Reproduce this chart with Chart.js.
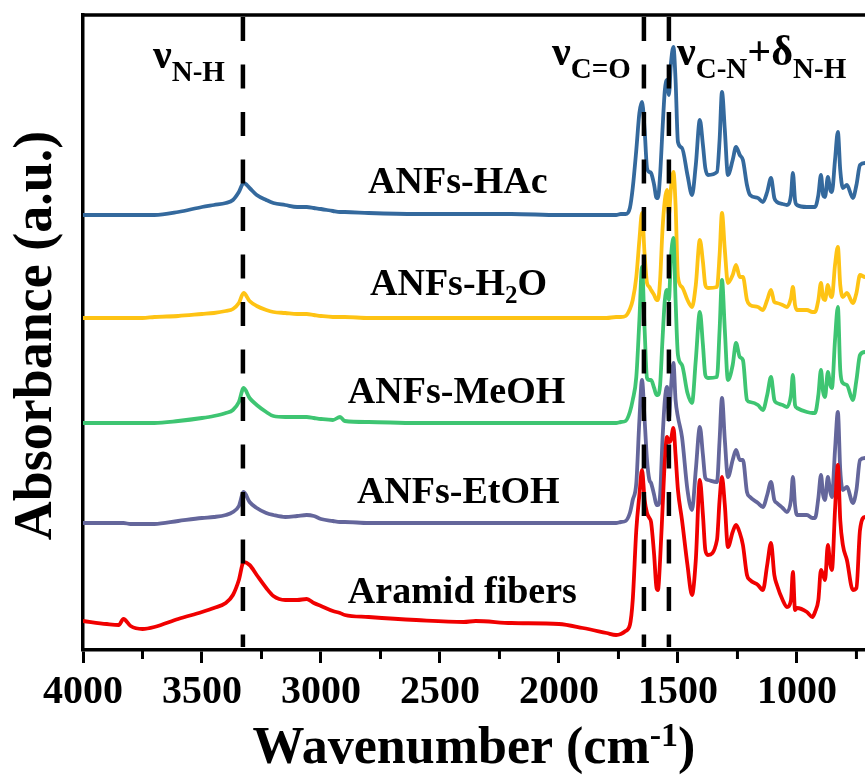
<!DOCTYPE html>
<html>
<head>
<meta charset="utf-8">
<script src="https://cdn.jsdelivr.net/npm/chart.js@4.4.1/dist/chart.umd.min.js"></script>
<style>
body { margin: 0; background: #fff; }
#wrap { width: 865px; height: 776px; }
</style>
</head>
<body>
<div id="wrap"><canvas id="ftir"></canvas></div>
<script>
// wavenumber grid (cm-1), shared by every spectrum
var wavenumbers = [
    4000,3900,3850,3830,3800,3750,3700,3600,3500,3450,
    3400,3370,3345,3325,3300,3270,3230,3200,3150,3100,
    3060,3030,3000,2950,2920,2900,2800,2600,2400,2350,
    2200,2000,1900,1800,1760,1740,1720,1702,1690,1675,
    1662,1651,1640,1630,1620,1613,1600,1590,1584,1575,
    1565,1555,1546,1538,1530,1519,1510,1500,1483,1460,
    1441,1425,1408,1395,1385,1374,1336,1325,1315,1303,
    1290,1270,1256,1240,1227,1210,1197,1164,1143,1125,
    1109,1095,1084,1060,1042,1025,1017,1008,1000,958,
    935,924,910,899,890,882,870,860,853,840,
    828,818,807,790,765,750,735,714,700
];

// absorbance (a.u., stacked with offsets)
var hacValues = [
    435,435,435,435,435,435,435,438,443,445,
    447,450,458,467,462,455,450,447,445,443,
    443,442,441,439,438,438,437,436,436,436,
    436,435,435,435,435,436,436,442,462,500,
    537,548,520,482,478,477,465,452,452,475,
    520,560,570,555,585,603,570,508,502,475,
    455,485,530,505,482,475,478,510,558,520,
    475,490,503,495,490,465,455,452,448,458,
    472,452,448,446,445,455,477,450,445,443,
    443,443,455,475,455,453,473,460,458,490,
    518,480,462,465,452,465,485,487,487
];
var h2oValues = [
    332,332,332,332,332,332,333,334,336,337,
    339,341,347,357,349,344,340,338,337,336,
    336,335,334,333,333,333,332,332,332,332,
    332,332,332,332,333,333,334,341,350,373,
    410,437,395,367,363,360,355,350,350,370,
    420,450,460,435,460,478,445,373,363,350,
    343,365,410,388,365,362,363,395,437,400,
    367,375,385,373,373,350,345,343,340,350,
    360,348,347,345,343,352,363,345,340,340,
    338,338,350,367,352,350,365,355,353,385,
    403,365,353,357,347,357,375,373,373
];
var meohValues = [
    227,227,227,227,227,227,227,229,232,234,
    237,240,248,262,252,245,238,234,233,233,
    233,232,231,230,233,229,228,227,227,227,
    227,227,227,227,227,228,229,238,250,273,
    330,383,320,272,270,270,262,255,255,265,
    310,350,360,350,390,412,350,295,285,257,
    247,290,338,305,275,272,273,320,370,320,
    270,285,307,293,290,250,248,245,240,255,
    273,250,247,245,243,255,275,245,242,238,
    237,237,255,280,258,253,278,265,262,310,
    343,280,267,265,250,270,295,298,298
];
var etohValues = [
    127,127,127,127,126,126,126,129,132,133,
    135,138,144,158,148,142,137,135,133,134,
    135,134,131,129,128,128,127,127,127,127,
    127,127,127,127,127,128,129,137,150,167,
    230,270,230,190,170,167,155,145,145,155,
    210,250,263,230,260,287,250,233,213,160,
    140,180,223,195,172,170,168,210,252,210,
    173,190,200,190,190,158,153,147,143,155,
    168,150,147,142,138,150,173,145,135,135,
    132,132,152,175,155,150,173,158,153,200,
    238,180,160,163,147,160,190,192,192
];
var aramidValues = [
    29,26,25,31,24,21,23,31,38,42,
    47,55,70,88,85,75,62,54,50,50,
    51,47,44,39,37,35,33,30,28,29,
    27,26,22,17,15,16,19,25,50,120,
    155,180,150,137,132,128,95,62,60,90,
    140,190,213,208,210,222,195,160,130,85,
    55,90,170,135,100,95,110,150,173,145,
    103,118,125,117,105,75,70,65,60,85,
    107,75,65,50,43,50,78,40,42,38,
    33,38,50,80,75,70,105,85,80,140,
    185,130,105,90,60,62,120,133,133
];

var tickValues = [4000, 3500, 3000, 2500, 2000, 1500, 1000];
var minorTickValues = [3750, 3250, 2750, 2250, 1750, 1250, 750];
var bandPositions = [3328, 1643, 1538];

// text runs: [text, 0 normal | 1 subscript | 2 superscript]
var seriesLabels = [
    { runs: [['ANFs-HAc', 0]], at: [2802, 457] },
    { runs: [['ANFs-H', 0], ['2', 1], ['O', 0]], at: [2794, 355] },
    { runs: [['ANFs-MeOH', 0]], at: [2887, 247] },
    { runs: [['ANFs-EtOH', 0]], at: [2849, 147] },
    { runs: [['Aramid fibers', 0]], at: [2887, 47] }
];
var bandLabels = [
    { runs: [['\u03BD', 0], ['N-H', 1]], at: [3706, 582] },
    { runs: [['\u03BD', 0], ['C=O', 1]], at: [2029, 585] },
    { runs: [['\u03BD', 0], ['C-N', 1], ['+', 0], ['\u03B4', 0], ['N-H', 1]], at: [1504, 585] }
];

var FONT = '"Liberation Serif", "Times New Roman", serif';

function runsWidth(ctx, runs, size, small) {
    var w = 0;
    runs.forEach(function(r) {
        ctx.font = 'bold ' + (r[1] ? small : size) + 'px ' + FONT;
        w += ctx.measureText(r[0]).width;
    });
    return w;
}
function drawRuns(ctx, runs, x, y, size, small, shift) {
    runs.forEach(function(r) {
        ctx.font = 'bold ' + (r[1] ? small : size) + 'px ' + FONT;
        var dy = r[1] === 1 ? shift : (r[1] === 2 ? -shift : 0);
        ctx.fillText(r[0], x, y + dy);
        x += ctx.measureText(r[0]).width;
    });
}

var decor = {
    id: 'decor',
    afterDatasetsDraw: function(chart) {
        var ctx = chart.ctx, xs = chart.scales.x, ys = chart.scales.y;
        ctx.save();
        ctx.strokeStyle = '#000';
        ctx.lineWidth = 4.5;
        ctx.setLineDash([24, 23.5]);
        bandPositions.forEach(function(w) {
            var px = xs.getPixelForValue(w);
            ctx.beginPath();
            ctx.moveTo(px, ys.getPixelForValue(633));
            ctx.lineTo(px, ys.getPixelForValue(3));
            ctx.stroke();
        });
        ctx.restore();
    },
    afterDraw: function(chart) {
        var ctx = chart.ctx, xs = chart.scales.x, ys = chart.scales.y, a = chart.chartArea;
        ctx.save();
        ctx.strokeStyle = '#000';
        // top frame
        ctx.lineWidth = 3.5;
        ctx.beginPath();
        ctx.moveTo(a.left - 1.75, a.top);
        ctx.lineTo(a.right, a.top);
        ctx.stroke();
        // minor ticks
        ctx.lineWidth = 3;
        minorTickValues.forEach(function(v) {
            var px = xs.getPixelForValue(v);
            ctx.beginPath();
            ctx.moveTo(px, a.bottom);
            ctx.lineTo(px, a.bottom + 9);
            ctx.stroke();
        });
        ctx.fillStyle = '#000';
        ctx.textBaseline = 'alphabetic';
        ctx.textAlign = 'left';
        seriesLabels.forEach(function(l) {
            drawRuns(ctx, l.runs, xs.getPixelForValue(l.at[0]), ys.getPixelForValue(l.at[1]), 38, 25, 8);
        });
        bandLabels.forEach(function(l) {
            drawRuns(ctx, l.runs, xs.getPixelForValue(l.at[0]), ys.getPixelForValue(l.at[1]), 42, 29, 13);
        });
        // x title
        var xt = [['Wavenumber (cm', 0], ['-1', 2], [')', 0]];
        var w = runsWidth(ctx, xt, 52, 34);
        drawRuns(ctx, xt, (a.left + a.right) / 2 - w / 2, 763, 52, 34, 17);
        // y title
        ctx.translate(51, (a.top + a.bottom) / 2 + 3);
        ctx.rotate(-Math.PI / 2);
        ctx.textAlign = 'center';
        ctx.font = 'bold 54px ' + FONT;
        ctx.fillText('Absorbance (a.u.)', 0, 0);
        ctx.restore();
    }
};

function points(values) {
    return wavenumbers.map(function(w, i) { return { x: w, y: values[i] }; });
}

var ctx = document.getElementById('ftir').getContext('2d');
window.ftir = new Chart(ctx, {
    type: 'line',
    data: {
        datasets: [
            { label: 'Aramid fibers', borderColor: '#f00000', data: points(aramidValues) },
            { label: 'ANFs-EtOH', borderColor: '#64669b', data: points(etohValues) },
            { label: 'ANFs-MeOH', borderColor: '#3ec572', data: points(meohValues) },
            { label: 'ANFs-H2O', borderColor: '#fec314', data: points(h2oValues) },
            { label: 'ANFs-HAc', borderColor: '#34699d', data: points(hacValues) }
        ]
    },
    options: {
        responsive: true,
        maintainAspectRatio: false,
        animation: false,
        layout: { padding: { top: 15, right: 0, left: 0, bottom: 0 } },
        plugins: { legend: { display: false }, tooltip: { enabled: false } },
        elements: {
            point: { radius: 0 },
            line: { borderWidth: 3.8, cubicInterpolationMode: 'monotone', fill: false }
        },
        scales: {
            x: {
                type: 'linear',
                reverse: true,
                min: 714,
                max: 4000,
                afterBuildTicks: function(s) { s.ticks = tickValues.map(function(v) { return { value: v }; }); },
                afterFit: function(s) { s.height = 126; },
                grid: { display: true, drawOnChartArea: false, drawTicks: true, tickLength: 13, tickWidth: 3, tickColor: '#000' },
                border: { display: true, color: '#000', width: 3.5 },
                ticks: {
                    color: '#000',
                    font: { family: FONT, size: 40, weight: 'bold' },
                    padding: 6,
                    maxRotation: 0,
                    autoSkip: false,
                    callback: function(v) { return String(v); }
                }
            },
            y: {
                min: 0,
                max: 635,
                afterFit: function(s) { s.width = 83; },
                grid: { display: false },
                ticks: { display: false },
                border: { display: true, color: '#000', width: 3.5 }
            }
        }
    },
    plugins: [decor]
});
</script>
</body>
</html>
